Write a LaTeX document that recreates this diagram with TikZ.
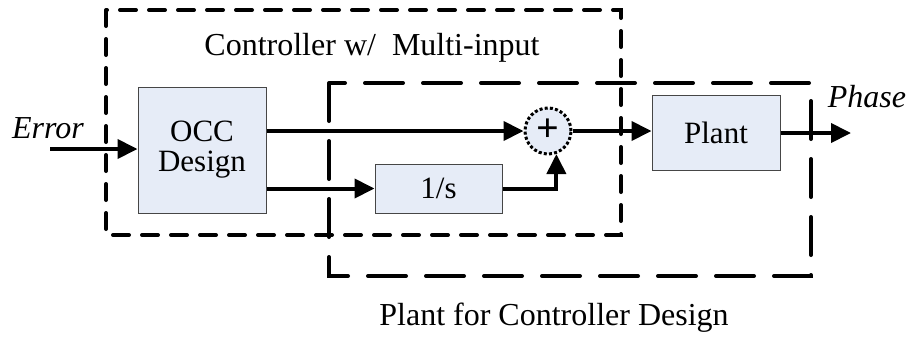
\documentclass[tikz,border=0pt]{standalone}
\usepackage{fontspec}
\setmainfont{Liberation Serif}
\usetikzlibrary{arrows.meta,calc}
\definecolor{boxfill}{RGB}{230,236,247}
\definecolor{boxdraw}{RGB}{70,70,70}
\begin{document}
\begin{tikzpicture}[x=1pt,y=-1pt,
  blk/.style={draw=boxdraw,line width=1pt,fill=boxfill,rectangle,inner sep=0pt,align=center,font=\fontsize{31}{30}\selectfont},
  conn/.style={line width=4pt,-{Triangle[length=20pt,width=19pt]}},
  ctrlbox/.style={line width=4pt,line cap=round,dash pattern=on 16pt off 13pt},
  plantbox/.style={line width=4pt,line cap=round,dash pattern=on 38pt off 20pt},
  lbl/.style={font=\fontsize{32}{32}\selectfont,inner sep=0pt}]
\useasboundingbox (0,0) rectangle (908,338);
% dashed groups
\coordinate (c1) at (106,10);
\coordinate (c2) at (621,235);
\coordinate (p1) at (329,83);
\coordinate (p2) at (811,276);
\draw[ctrlbox] (c1) rectangle (c2);
\draw[plantbox] (p1) rectangle (p2);
% blocks
\node[blk,minimum width=128pt,minimum height=126pt] (occ) at (202,150) {OCC\\Design};
\node[blk,minimum width=127pt,minimum height=49pt] (integ) at (438.5,188.5) {1/s};
\node[blk,circle,minimum size=46pt,draw=black,line width=3pt,dash pattern=on 3pt off 2.2pt,font=\fontsize{40}{40}\selectfont\bfseries] (sum) at (548,131) {\raisebox{2pt}{+}};
\node[blk,minimum width=128pt,minimum height=75pt] (plant) at (716,132.5) {Plant};
% labels
\node[lbl,font=\fontsize{32}{32}\selectfont\itshape] (err) at (48,128) {Error};
\node[lbl,font=\fontsize{32}{32}\selectfont\itshape] (ph) at (867,97) {Phase};
\node[lbl] (ctitle) at (372,48) {Controller w/~~Multi-input};
\node[lbl] (ptitle) at (554,318) {Plant for Controller Design};
% connectors
\coordinate (in) at (50,149);
\coordinate (out) at (851,133);
\draw[conn] (in) -- (in -| occ.west);
\draw[conn] (occ.east |- sum.west) -- (sum.west);
\draw[conn] (occ.east |- integ.west) -- (integ.west);
\draw[conn] (integ.east) -| (sum.-70);
\draw[conn] (sum.east) -- (sum.east -| plant.west);
\draw[conn] (plant.east |- out) -- (out);
\end{tikzpicture}
\end{document}
